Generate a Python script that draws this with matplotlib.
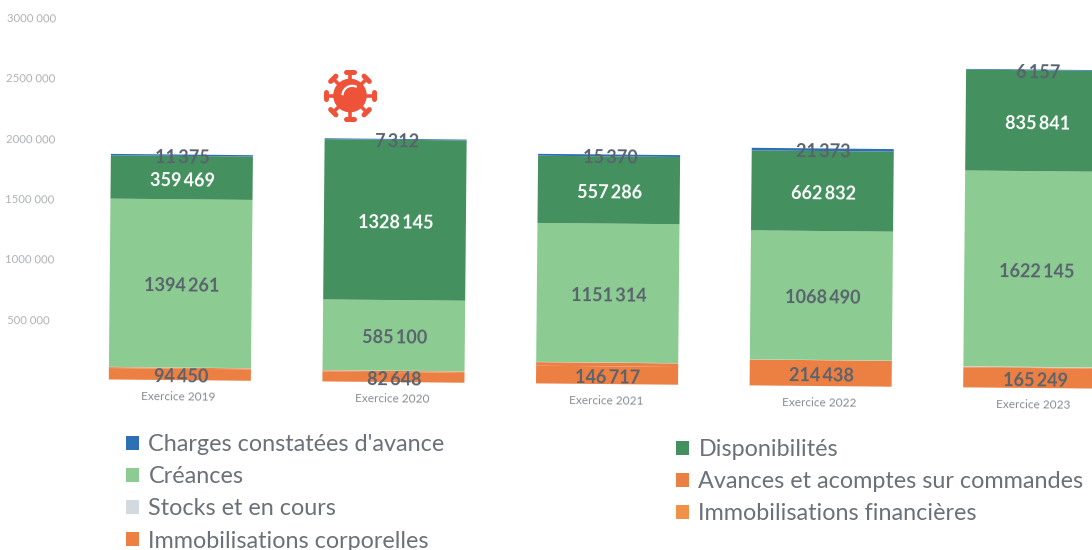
import numpy as np
import matplotlib
matplotlib.use("Agg")
import matplotlib.pyplot as plt
from matplotlib.patches import Patch, Circle
from matplotlib.transforms import Affine2D

plt.rcParams['font.family'] = ['Lato', 'DejaVu Sans']

W, H = 1092, 550
TILT = -0.53

exercices = ['Exercice 2019', 'Exercice 2020', 'Exercice 2021', 'Exercice 2022', 'Exercice 2023']
immob_corporelles = [94450, 82648, 146717, 214438, 165249]
avances = [8000, 10000, 30000, 0, 6000]
immob_financieres = [0, 0, 0, 0, 0]
stocks = [2000, 2000, 2000, 2000, 4000]
creances = [1394261, 585100, 1151314, 1068490, 1622145]
disponibilites = [359469, 1328145, 557286, 662832, 835841]
charges = [11375, 7312, 15370, 21373, 6157]
yticks = [500000, 1000000, 1500000, 2000000, 2500000, 3000000]
ytick_labels = ['500 000', '1000 000', '1500 000', '2000 000', '2500 000', '3000 000']

GREY = '#59636e'
series = [
    ('Immobilisations corporelles', immob_corporelles, '#ec7f42', GREY),
    ('Avances et acomptes sur commandes', avances, '#ec7f44', None),
    ('Immobilisations financières', immob_financieres, '#f0914a', None),
    ('Stocks et en cours', stocks, '#d3dadf', None),
    ('Créances', creances, '#8ccb92', GREY),
    ('Disponibilités', disponibilites, '#44905f', 'white'),
    ("Charges constatées d'avance", charges, '#2f6fb3', GREY),
]

fig = plt.figure(figsize=(W / 100, H / 100), dpi=100, facecolor='white')
left, right = 73, 1141
base, top = 384, 22
ax = fig.add_axes([left / W, 1 - base / H, (right - left) / W, (base - top) / H])
ax.set_xlim(-0.5, 4.5)
ax.set_ylim(0, 3000000)
ax.axis('off')

# slight clockwise scan tilt, pivoting in display pixels
tilt = Affine2D().rotate_deg_around(600, H - base, TILT)
trans = ax.transData + tilt
label_trans = trans + Affine2D().translate(1, -2)

def fmt(v):
    v = int(v)
    return f'{v // 1000}\u2009{v % 1000:03d}' if v >= 1000 else str(v)

x = np.arange(len(exercices))
bottom = np.zeros(len(exercices))
for name, vals, col, lab in series:
    vals = np.array(vals, dtype=float)
    ax.bar(x, vals, 0.665, bottom=bottom, color=col, linewidth=0, transform=trans, clip_on=False)
    if lab:
        for xi, b, v in zip(x, bottom, vals):
            y = b + v / 2
            if name.startswith('Charges'):
                y -= 4000
            elif name.startswith('Immobilisations'):
                y -= 3000
            else:
                y -= 6000
            ax.text(xi, y, fmt(v), ha='center', va='center',
                    fontsize=13, color=lab, fontweight='bold', transform=label_trans,
                    rotation=TILT, rotation_mode='anchor', clip_on=False)
    bottom += vals

for xi, lb in zip(x, exercices):
    ax.text(xi - 0.005, -137000, lb, ha='center', va='center', fontsize=8.6, color='#868d94',
            transform=trans, rotation=TILT, rotation_mode='anchor')

tick_trans = trans + Affine2D().translate(0, -2)
for v, lb in zip(yticks, ytick_labels):
    ax.text(-0.71, v, lb, ha='center', va='center', fontsize=8.2, color='#aeb1b4',
            transform=tick_trans, rotation=TILT, rotation_mode='anchor')

# Legends (two columns, the scan tilt lowers the right one)
by_name = {n: c for n, _, c, _ in series}
def legend(names, x0, y0):
    hs = [Patch(facecolor=by_name[n], edgecolor='none', label=n) for n in names]
    return fig.legend(handles=hs, loc='upper left', bbox_to_anchor=(x0 / W, 1 - y0 / H),
                      frameon=False, fontsize=16.8, handlelength=0.56, handleheight=0.56,
                      handletextpad=0.4, labelspacing=0.48, borderpad=0, borderaxespad=0,
                      labelcolor='#6a7178')
legend(["Charges constatées d'avance", 'Créances', 'Stocks et en cours', 'Immobilisations corporelles'], 126, 434)
legend(['Disponibilités', 'Avances et acomptes sur commandes', 'Immobilisations financières'], 676, 439)

# COVID icon
iax = fig.add_axes([321 / W, 1 - 124.5 / H, 58 / W, 58 / H])
iax.set_xlim(-27, 27)
iax.set_ylim(-27, 27)
iax.axis('off')
red = '#ee5238'
iax.add_patch(Circle((0, 0), 15, color=red))
for a in np.deg2rad(np.arange(0, 360, 45)):
    c, s = np.cos(a), np.sin(a)
    iax.plot([0, 22 * c], [0, 22 * s], color=red, lw=2.6)
    iax.plot([22 * c - 3.5 * s, 22 * c + 3.5 * s], [22 * s + 3.5 * c, 22 * s - 3.5 * c],
             color=red, lw=3.6, solid_capstyle='round')
t = np.linspace(1.2, 3.0, 20)
iax.plot(2 + 9 * np.cos(t), 9 * np.sin(t), color='white', lw=1.6)

fig.savefig('out.png', dpi=100)
